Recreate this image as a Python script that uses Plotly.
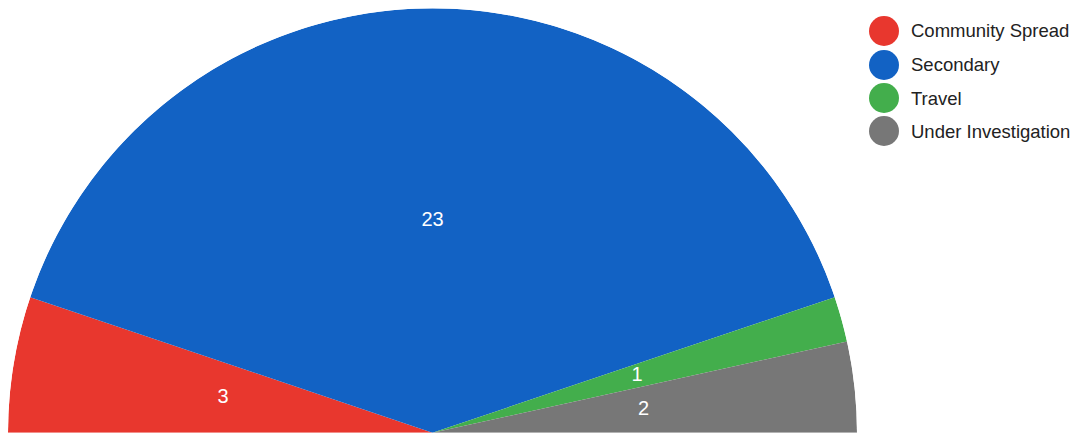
import plotly.graph_objects as go

categories = ["Community Spread", "Secondary", "Travel", "Under Investigation"]
values = [3, 23, 1, 2]
colors = ["#E8372E", "#1262C4", "#43AE4C", "#777777"]

W, H = 1074, 434
total = sum(values)

# angles (degrees) along the half circle, starting at the left
mids, spans = [], []
acc = 0
for v in values:
    span = v / total * 180.0
    spans.append(span)
    mids.append(acc + span / 2)
    acc += span

fig = go.Figure()
fig.add_trace(go.Barpolar(
    r=[1] * len(values), theta=mids, width=spans,
    marker=dict(color=colors, line=dict(width=0)),
    showlegend=False, hoverinfo="skip", text=categories,
))
fig.add_trace(go.Scatterpolar(
    r=[0.5] * len(values), theta=mids, mode="text",
    text=[str(v) for v in values],
    textfont=dict(color="white", size=20, family="Arial, Liberation Sans"),
    showlegend=False, hoverinfo="skip",
))

# custom legend (large circle markers)
leg_y = [31, 65, 98, 131]
cx, rad, tx = 884, 15, 909
shapes, annotations = [], []
for name, col, yy in zip(categories, colors, leg_y):
    shapes.append(dict(type="circle", xref="paper", yref="paper",
                       x0=(cx - rad) / W, x1=(cx + rad) / W,
                       y0=1 - (yy + rad) / H, y1=1 - (yy - rad) / H,
                       fillcolor=col, line=dict(width=0)))
    annotations.append(dict(x=tx / W, y=1 - yy / H, xref="paper", yref="paper",
                            text=name, showarrow=False, xanchor="left", yanchor="middle",
                            font=dict(size=18.5, color="#222222", family="Arial, Liberation Sans")))

fig.update_layout(
    width=W, height=H,
    margin=dict(l=0, r=0, t=0, b=0),
    paper_bgcolor="white",
    showlegend=False,
    shapes=shapes, annotations=annotations,
    polar=dict(
        domain=dict(x=[8 / W, 857 / W], y=[1 / H, 426 / H]),
        sector=[0, 180],
        bgcolor="rgba(0,0,0,0)",
        bargap=0,
        radialaxis=dict(visible=False, range=[0, 1]),
        angularaxis=dict(visible=False, rotation=180, direction="clockwise",
                         showgrid=False, showline=False),
    ),
)

fig.write_html("out.html",
               config={"displayModeBar": False},
               post_script="document.body.style.margin='0';document.body.style.overflow='hidden';")
